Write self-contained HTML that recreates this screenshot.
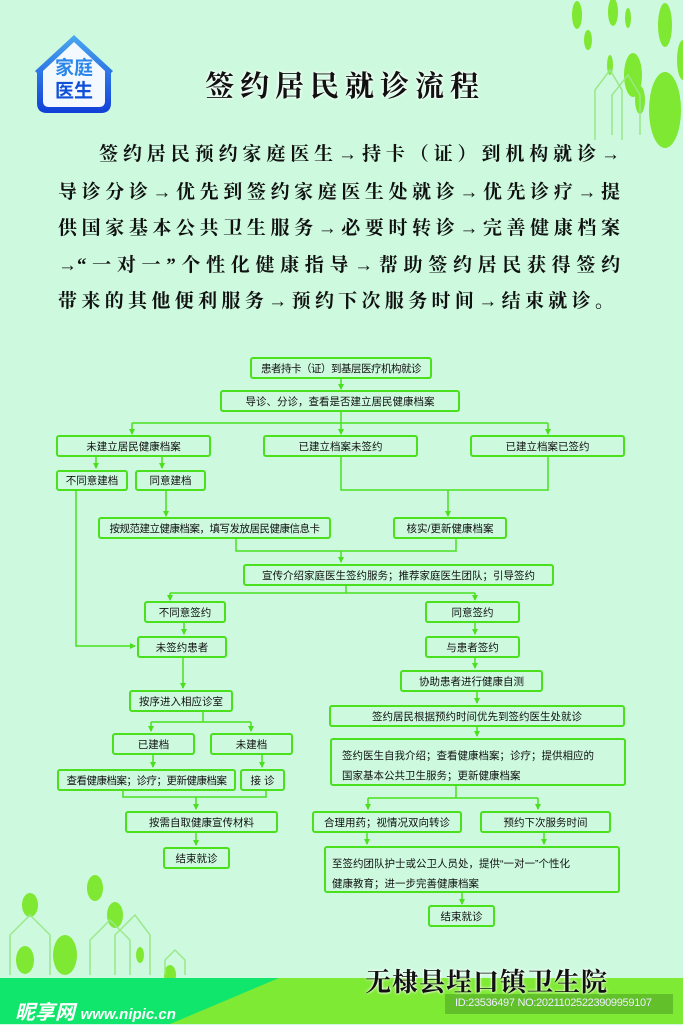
<!DOCTYPE html>
<html><head><meta charset="utf-8">
<style>
html,body{margin:0;padding:0}
body{width:683px;height:1024px;position:relative;overflow:hidden;background:#cdfade;font-family:"Liberation Sans","Noto Sans CJK SC",sans-serif}
.b{position:absolute;border:2px solid #4ae01e;border-radius:3px;box-sizing:border-box;display:flex;align-items:center;justify-content:center;font-size:10.5px;color:#111;white-space:nowrap;overflow:hidden}
.p{position:absolute;left:58px;width:562px;font-size:19px;font-weight:bold;color:#111;text-align:justify;text-align-last:justify;line-height:24px;font-family:"Liberation Serif","Noto Serif CJK SC",serif}
.t2{display:block;justify-content:flex-start;padding:6px 0 0 12px;line-height:20px;white-space:normal}
.s{letter-spacing:-0.5px}
</style></head><body>
<svg width="683" height="1024" style="position:absolute;left:0;top:0">
<defs><marker id="a" markerWidth="6" markerHeight="6" refX="5" refY="3" orient="auto" markerUnits="userSpaceOnUse"><path d="M0,0 L6,3 L0,6z" fill="#4ae01e"/></marker>
<linearGradient id="g" x1="0" y1="0" x2="0" y2="1"><stop offset="0" stop-color="#4aa8f0"/><stop offset="1" stop-color="#1040d8"/></linearGradient></defs>
<g fill="#7ee832">
<ellipse cx="577" cy="15" rx="5" ry="14"/><ellipse cx="613" cy="12" rx="5" ry="14"/><ellipse cx="628" cy="18" rx="3" ry="10"/><ellipse cx="665" cy="25" rx="7" ry="22"/>
<ellipse cx="588" cy="40" rx="4" ry="10"/><ellipse cx="633" cy="75" rx="9" ry="22"/><ellipse cx="610" cy="65" rx="3" ry="10"/>
<ellipse cx="665" cy="110" rx="16" ry="38"/><ellipse cx="640" cy="100" rx="5" ry="14"/><ellipse cx="683" cy="60" rx="6" ry="20"/>
<ellipse cx="30" cy="905" rx="8" ry="12"/><ellipse cx="95" cy="888" rx="8" ry="13"/><ellipse cx="115" cy="915" rx="8" ry="13"/><ellipse cx="65" cy="955" rx="12" ry="20"/><ellipse cx="25" cy="960" rx="9" ry="14"/><ellipse cx="170" cy="975" rx="6" ry="10"/><ellipse cx="140" cy="955" rx="4" ry="8"/>
</g>
<g fill="none" stroke="#9ae88a" stroke-width="1.5">
<path d="M595,140 V90 L610,70 L622,90 V140"/><path d="M612,135 V95 L628,75 L640,95 V135"/>
<path d="M10,975 V935 L30,915 L50,935 V975"/><path d="M90,975 V940 L110,920 L130,940 V975"/><path d="M115,975 V935 L135,915 L150,935 V975"/><path d="M165,975 V960 L175,950 L185,960 V975"/>
</g>
<polygon points="0,978 683,978 683,1024 0,1024" fill="#7fea33"/>
<polygon points="0,978 279,978 170,1024 0,1024" fill="#10e66c"/>
<rect x="445" y="994" width="228" height="20" fill="#62c12a"/>
<g stroke="#4ae01e" stroke-width="1.5" fill="none">
<path d="M341,378V389" marker-end="url(#a)"/>
<path d="M341,412V423M132,423H548"/>
<path d="M132,423V434" marker-end="url(#a)"/><path d="M341,423V434" marker-end="url(#a)"/><path d="M548,423V434" marker-end="url(#a)"/>
<path d="M96,457V468" marker-end="url(#a)"/><path d="M162,457V468" marker-end="url(#a)"/>
<path d="M76,491V646H135" marker-end="url(#a)"/>
<path d="M166,491V516" marker-end="url(#a)"/>
<path d="M341,457V490H548V457"/><path d="M448,490V516" marker-end="url(#a)"/>
<path d="M236,539V551H456V539"/><path d="M341,551V562" marker-end="url(#a)"/>
<path d="M346,585V593M170,593H475"/>
<path d="M170,593V600" marker-end="url(#a)"/><path d="M475,593V600" marker-end="url(#a)"/>
<path d="M184,623V634" marker-end="url(#a)"/><path d="M475,623V634" marker-end="url(#a)"/>
<path d="M183,657V688" marker-end="url(#a)"/>
<path d="M475,657V668" marker-end="url(#a)"/><path d="M477,691V703" marker-end="url(#a)"/><path d="M477,726V736" marker-end="url(#a)"/>
<path d="M203,711V722M151,722H251"/><path d="M151,722V731" marker-end="url(#a)"/><path d="M251,722V731" marker-end="url(#a)"/>
<path d="M153,754V767" marker-end="url(#a)"/><path d="M262,754V767" marker-end="url(#a)"/>
<path d="M123,790V797H266V790"/><path d="M196,797V809" marker-end="url(#a)"/>
<path d="M196,832V845" marker-end="url(#a)"/>
<path d="M456,786V798M368,798H538"/><path d="M368,798V809" marker-end="url(#a)"/><path d="M538,798V809" marker-end="url(#a)"/>
<path d="M367,832V844" marker-end="url(#a)"/><path d="M544,832V844" marker-end="url(#a)"/>
<path d="M462,893V904" marker-end="url(#a)"/>
</g>
</svg>

<div style="position:absolute;left:33px;top:33px;width:82px;height:82px">
<svg width="82" height="82"><path d="M41,2 L80,38 L78,40 V70 Q78,80 68,80 H14 Q4,80 4,70 V40 L2,38 Z" fill="url(#g)"/><path d="M41,9 L72,38 V68 Q72,74 66,74 H16 Q10,74 10,68 V38 Z" fill="#f4f8ff"/></svg>
<div style="position:absolute;left:0;top:24px;width:82px;text-align:center;font-size:19px;font-weight:bold;color:#2a86e8;line-height:23px">家庭<br><span style="color:#1050d8">医生</span></div>
</div>
<div style="position:absolute;left:205px;top:64px;font-size:29px;font-weight:bold;letter-spacing:6px;font-family:'Liberation Serif','Noto Serif CJK SC',serif;color:#111;text-shadow:0 0 3px #fff,0 0 3px #fff">签约居民就诊流程</div>

<div class="p" style="top:143px;left:99px;width:521px">签约居民预约家庭医生→持卡（证）到机构就诊→</div>
<div class="p" style="top:181px">导诊分诊→优先到签约家庭医生处就诊→优先诊疗→提</div>
<div class="p" style="top:217px">供国家基本公共卫生服务→必要时转诊→完善健康档案</div>
<div class="p" style="top:254px">→“一对一”个性化健康指导→帮助签约居民获得签约</div>
<div class="p" style="top:290px;width:556px">带来的其他便利服务→预约下次服务时间→结束就诊。</div>

<div class="b s" style="left:250px;top:357px;width:182px;height:22px">患者持卡（证）到基层医疗机构就诊</div>
<div class="b" style="left:220px;top:390px;width:240px;height:22px">导诊、分诊，查看是否建立居民健康档案</div>
<div class="b" style="left:56px;top:435px;width:155px;height:22px">未建立居民健康档案</div>
<div class="b" style="left:263px;top:435px;width:155px;height:22px">已建立档案未签约</div>
<div class="b" style="left:470px;top:435px;width:155px;height:22px">已建立档案已签约</div>
<div class="b" style="left:56px;top:470px;width:72px;height:21px">不同意建档</div>
<div class="b" style="left:135px;top:470px;width:71px;height:21px">同意建档</div>
<div class="b s" style="left:98px;top:517px;width:233px;height:22px">按规范建立健康档案，填写发放居民健康信息卡</div>
<div class="b" style="left:393px;top:517px;width:114px;height:22px">核实/更新健康档案</div>
<div class="b" style="left:243px;top:564px;width:311px;height:22px">宣传介绍家庭医生签约服务；推荐家庭医生团队；引导签约</div>
<div class="b" style="left:144px;top:601px;width:82px;height:22px">不同意签约</div>
<div class="b" style="left:425px;top:601px;width:95px;height:22px">同意签约</div>
<div class="b" style="left:137px;top:636px;width:90px;height:22px">未签约患者</div>
<div class="b" style="left:425px;top:636px;width:95px;height:22px">与患者签约</div>
<div class="b" style="left:400px;top:670px;width:143px;height:22px">协助患者进行健康自测</div>
<div class="b" style="left:129px;top:690px;width:104px;height:22px">按序进入相应诊室</div>
<div class="b" style="left:329px;top:705px;width:296px;height:22px">签约居民根据预约时间优先到签约医生处就诊</div>
<div class="b" style="left:112px;top:733px;width:83px;height:22px">已建档</div>
<div class="b" style="left:210px;top:733px;width:83px;height:22px">未建档</div>
<div class="b t2" style="left:330px;top:738px;width:296px;height:48px;padding-left:10px">签约医生自我介绍；查看健康档案；诊疗；提供相应的<br>国家基本公共卫生服务；更新健康档案</div>
<div class="b s" style="left:57px;top:769px;width:179px;height:22px">查看健康档案；诊疗；更新健康档案</div>
<div class="b" style="left:240px;top:769px;width:45px;height:22px">接 诊</div>
<div class="b" style="left:125px;top:811px;width:153px;height:22px">按需自取健康宣传材料</div>
<div class="b" style="left:312px;top:811px;width:150px;height:22px">合理用药；视情况双向转诊</div>
<div class="b" style="left:480px;top:811px;width:131px;height:22px">预约下次服务时间</div>
<div class="b" style="left:163px;top:847px;width:67px;height:22px">结束就诊</div>
<div class="b t2" style="left:324px;top:846px;width:296px;height:47px;padding-left:6px">至签约团队护士或公卫人员处，提供“一对一”个性化<br>健康教育；进一步完善健康档案</div>
<div class="b" style="left:428px;top:905px;width:67px;height:22px">结束就诊</div>

<div style="position:absolute;left:365px;top:962px;font-size:26px;font-weight:bold;letter-spacing:1px;font-family:'Liberation Serif','Noto Serif CJK SC',serif;color:#111;text-shadow:0 0 3px #fff,0 0 2px #fff">无棣县埕口镇卫生院</div>
<div style="position:absolute;left:455px;top:997px;font-size:11px;color:#eef;letter-spacing:-0.3px">ID:23536497 NO:20211025223909959107</div>
<div style="position:absolute;left:15px;top:996px;font-size:20px;font-weight:bold;font-style:italic;color:#fff">昵享网 <span style="font-size:15px">www.nipic.cn</span></div>
</body></html>
